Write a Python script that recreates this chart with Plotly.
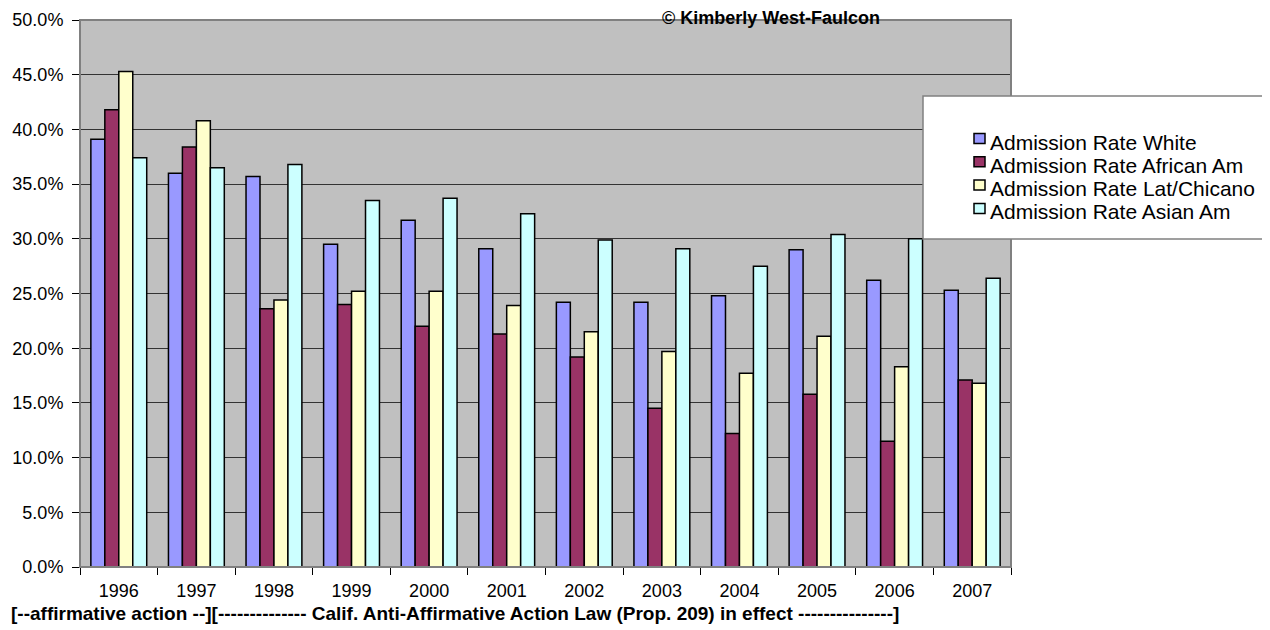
import plotly.graph_objects as go

years = ["1996", "1997", "1998", "1999", "2000", "2001", "2002", "2003", "2004", "2005", "2006", "2007"]
white = [39.1, 36.0, 35.7, 29.5, 31.7, 29.1, 24.2, 24.2, 24.8, 29.0, 26.2, 25.3]
african = [41.8, 38.4, 23.6, 24.0, 22.0, 21.3, 19.2, 14.5, 12.2, 15.8, 11.5, 17.1]
latino = [45.3, 40.8, 24.4, 25.2, 25.2, 23.9, 21.5, 19.7, 17.7, 21.1, 18.3, 16.8]
asian = [37.4, 36.5, 36.8, 33.5, 33.7, 32.3, 29.9, 29.1, 27.5, 30.4, 30.0, 26.4]

series_names = ["Admission Rate White", "Admission Rate African Am",
                "Admission Rate Lat/Chicano", "Admission Rate Asian Am"]
series_values = [white, african, latino, asian]
series_colors = ["#9999FF", "#993366", "#FFFFCC", "#CCFFFF"]

FONT = "Liberation Sans, Arial, sans-serif"
OFF = 8  # default body margin of the html page
W, H = 1270 - OFF, 630 - OFF
# plot area in page pixels
PX0, PX1, PY0, PY1 = 80, 1011, 20, 567
L, T = PX0 - OFF, PY0 - OFF
R, B = W - (PX1 - OFF), H - (PY1 - OFF)
PW, PH = PX1 - PX0, PY1 - PY0


def px_x(x):
    return (x - PX0) / PW


def px_y(y):
    return (PY1 - y) / PH


fig = go.Figure()
for name, vals, col in zip(series_names, series_values, series_colors):
    fig.add_trace(go.Bar(
        x=years, y=[v / 100 for v in vals], name=name,
        marker=dict(color=col, line=dict(color="black", width=1.5)),
        showlegend=False,
    ))

shapes = []
shapes.append(dict(type="rect", xref="paper", yref="paper", x0=0, x1=1, y0=0, y1=1,
                   line=dict(color="#808080", width=2), fillcolor="rgba(0,0,0,0)", layer="above"))
shapes.append(dict(type="rect", xref="paper", yref="paper",
                   x0=px_x(923), x1=px_x(1268), y0=px_y(239), y1=px_y(96),
                   line=dict(color="#808080", width=1.5), fillcolor="white", layer="above"))
annotations = []
row_y = [138.5, 161.8, 185.1, 208.4]
for i, (name, col) in enumerate(zip(series_names, series_colors)):
    cy = row_y[i]
    shapes.append(dict(type="rect", xref="paper", yref="paper",
                       x0=px_x(974), x1=px_x(985), y0=px_y(cy + 5), y1=px_y(cy - 5),
                       line=dict(color="black", width=1.5), fillcolor=col, layer="above"))
    annotations.append(dict(text=name, xref="paper", yref="paper", x=px_x(988), y=px_y(cy + 3.5),
                            xanchor="left", yanchor="middle", showarrow=False,
                            font=dict(family=FONT, size=21, color="black")))

annotations.append(dict(text="<b>© Kimberly West-Faulcon</b>", xref="paper", yref="paper",
                        x=px_x(771), y=px_y(30), xanchor="center", yanchor="bottom",
                        showarrow=False, font=dict(family=FONT, size=18, color="black")))
annotations.append(dict(
    text="<b>[--affirmative action --][-------------- Calif. Anti-Affirmative Action Law (Prop. 209) in effect ---------------]</b>",
    xref="paper", yref="paper", x=px_x(9), y=px_y(613), xanchor="left", yanchor="middle",
    showarrow=False, font=dict(family=FONT, size=19, color="black")))

fig.update_layout(
    width=W, height=H,
    margin=dict(l=L, r=R, t=T, b=B, pad=0, autoexpand=False),
    paper_bgcolor="white", plot_bgcolor="#C0C0C0",
    barmode="group", bargap=0.28, bargroupgap=0,
    font=dict(family=FONT, size=18, color="black"),
    shapes=shapes, annotations=annotations,
    xaxis=dict(type="category", tickson="boundaries", ticks="outside", ticklen=7,
               tickcolor="black", tickwidth=1, showline=True, linecolor="black", linewidth=1,
               showgrid=False, ticklabelstandoff=7, automargin=False,
               tickfont=dict(family=FONT, size=18, color="black")),
    yaxis=dict(range=[0, 0.5], dtick=0.05, tickformat=".1%", ticks="outside", ticklen=7,
               tickcolor="black", showline=True, linecolor="black", linewidth=1,
               showgrid=True, gridcolor="#333333", gridwidth=1, zeroline=False,
               ticklabelstandoff=5, automargin=False,
               tickfont=dict(family=FONT, size=18, color="black")),
)

fig.write_html("out.html")
